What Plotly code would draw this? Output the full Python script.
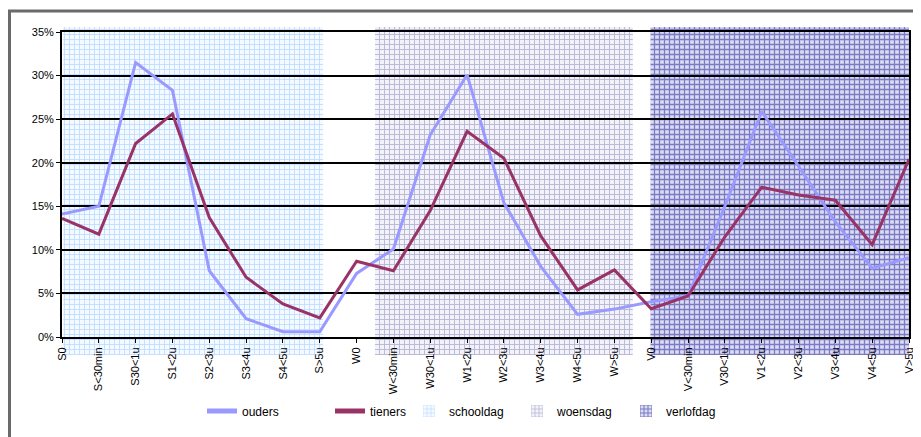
import plotly.graph_objects as go

categories = ["S0", "S<30min", "S30<1u", "S1<2u", "S2<3u", "S3<4u", "S4<5u", "S>5u",
              "W0", "W<30min", "W30<1u", "W1<2u", "W2<3u", "W3<4u", "W4<5u", "W>5u",
              "V0", "V<30min", "V30<1u", "V1<2u", "V2<3u", "V3<4u", "V4<5u", "V>5u"]

ouders = [14.1, 15.0, 31.5, 28.3, 7.6, 2.1, 0.6, 0.6,
          7.3, 10.1, 23.2, 30.1, 15.4, 8.1, 2.6, 3.2,
          4.05, 4.7, 15.0, 25.9, 19.6, 13.2, 7.9, 9.1]

tieners = [13.6, 11.8, 22.2, 25.6, 13.7, 6.85, 3.8, 2.2,
           8.7, 7.6, 14.5, 23.6, 20.5, 11.6, 5.4, 7.7,
           3.25, 4.7, 11.5, 17.2, 16.3, 15.7, 10.6, 20.4]

# day-type bands (start / end, in category-index units)
band_names = ["schooldag", "woensdag", "verlofdag"]
band_start = [0.03, 8.5, 15.98]
band_end = [7.09, 15.5, 23.0]

y_ticks = [0, 5, 10, 15, 20, 25, 30, 35]
y_tick_labels = ["0%", "5%", "10%", "15%", "20%", "25%", "30%", "35%"]

# ---------- geometry (window pixels; page body has an 8px margin) ----------
OFF = 8
W, H = 921 - OFF, 437 - OFF
plot_l, plot_r = 62 - OFF, 909 - OFF
plot_t, plot_b = 32 - OFF, 337 - OFF
band_t, band_b = 27 - OFF, 355 - OFF
px_per_pct = (plot_b - plot_t) / 35.0
band_lo = -(band_b - plot_b) / px_per_pct
band_hi = 35 + (plot_t - band_t) / px_per_pct

paper_h = band_b - band_t
paper_w = plot_r - plot_l


def py(pix):
    return (band_b - pix) / paper_h


def pxx(pix):
    return (pix - plot_l) / paper_w


band_styles = {
    "schooldag": dict(bg="#F4FAFF", fg="#BCDCFF", shape="+", size=5, solidity=0.3),
    "woensdag": dict(bg="#F2F2F8", fg="#B8B8D8", shape="+", size=5, solidity=0.35),
    "verlofdag": dict(bg="#DCDCF2", fg="#7B7BC4", shape="+", size=5, solidity=0.45),
}

fig = go.Figure()

x_idx = list(range(len(categories)))

fig.add_trace(go.Scatter(x=x_idx, y=ouders, name="ouders", mode="lines",
                         line=dict(color="#9999FF", width=3),
                         xaxis="x2", yaxis="y2", legend="legend"))
fig.add_trace(go.Scatter(x=x_idx, y=tieners, name="tieners", mode="lines",
                         line=dict(color="#993366", width=3),
                         xaxis="x2", yaxis="y2", legend="legend2"))

for i, (nm, s, e) in enumerate(zip(band_names, band_start, band_end)):
    st = band_styles[nm]
    fig.add_trace(go.Bar(
        x=[(s + e) / 2], y=[band_hi - band_lo], base=[band_lo], width=[e - s],
        name=nm,
        marker=dict(color=st["bg"], line=dict(width=0),
                    pattern=dict(shape=st["shape"], fgcolor=st["fg"], bgcolor=st["bg"],
                                 size=st["size"], solidity=st["solidity"],
                                 fillmode="replace")),
        xaxis="x", yaxis="y", legend=f"legend{i + 3}", hoverinfo="skip"))

font = dict(family="Liberation Sans, Arial, sans-serif", size=11, color="#000000")

legend_common = dict(orientation="h", yanchor="middle", xanchor="left",
                     xref="container", yref="container",
                     bgcolor="rgba(0,0,0,0)", font=dict(font, size=12),
                     itemsizing="constant")
legend_px = [202 - OFF, 330 - OFF, 409 - OFF, 517 - OFF, 626 - OFF]
legend_y = 1 - (411 - OFF) / H

layout = dict(
    width=W, height=H,
    paper_bgcolor="white", plot_bgcolor="rgba(0,0,0,0)",
    margin=dict(l=plot_l, r=W - plot_r, t=band_t, b=H - band_b, pad=0, autoexpand=False),
    font=font,
    barmode="overlay",
    xaxis=dict(domain=[0, 1], range=[0, 23], visible=False, fixedrange=True,
               automargin=False),
    yaxis=dict(domain=[0, 1], range=[band_lo, band_hi], visible=False, fixedrange=True,
               automargin=False),
    xaxis2=dict(domain=[0, 1], range=[0, 23], anchor="y2", automargin=False,
                tickmode="array", tickvals=x_idx, ticktext=categories,
                tickangle=-90, ticks="outside", ticklen=4, tickcolor="black",
                showline=True, linecolor="black", linewidth=2, mirror=True,
                showgrid=False, zeroline=False, tickfont=font),
    yaxis2=dict(domain=[py(plot_b), py(plot_t)], range=[0, 35], anchor="x2",
                automargin=False,
                tickmode="array", tickvals=y_ticks, ticktext=y_tick_labels,
                ticks="outside", ticklen=4, tickcolor="black",
                showline=True, linecolor="black", linewidth=2, mirror=True,
                showgrid=True, gridcolor="black", gridwidth=1.5,
                zeroline=False, tickfont=font),
    showlegend=True,
    shapes=[dict(type="rect", xref="paper", yref="paper",
                 x0=pxx(9.5 - OFF), x1=pxx(930), y0=py(450), y1=py(11 - OFF),
                 line=dict(color="#6A6A6A", width=3), fillcolor="rgba(0,0,0,0)",
                 layer="above")],
)
for i, lx in enumerate(legend_px):
    key = "legend" if i == 0 else f"legend{i + 1}"
    layout[key] = dict(legend_common, x=lx / W, y=legend_y)

fig.update_layout(**layout)
fig.write_html("out.html")
